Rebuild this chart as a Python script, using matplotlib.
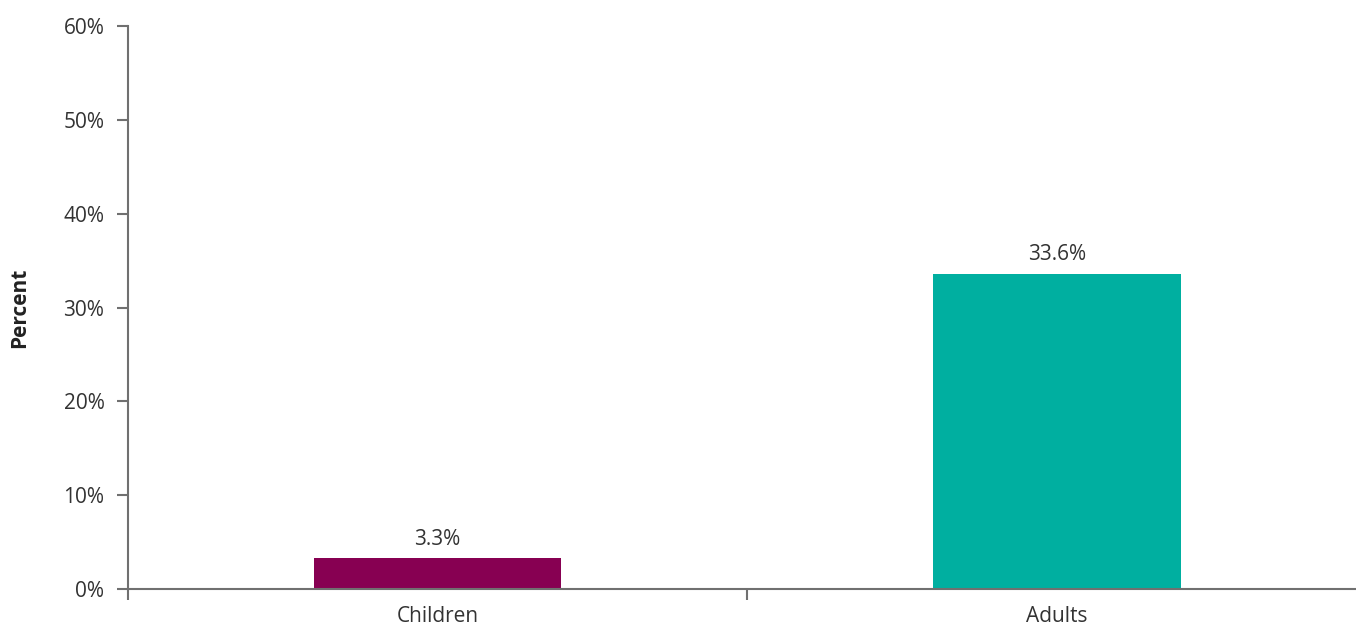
import matplotlib
matplotlib.use("Agg")
import matplotlib.pyplot as plt
from matplotlib.ticker import FuncFormatter

# values
groups = ["Children", "Adults"]
percents = [3.3, 33.6]
bar_colors = ["#870052", "#00AFA0"]

plt.rcParams['font.family'] = ['Open Sans', 'DejaVu Sans']

fig = plt.figure(figsize=(13.56, 6.27), dpi=100)
ax = fig.add_axes([128 / 1356, 38 / 627, 1 - 128 / 1356, 563 / 627])

x = list(range(len(groups)))
bars = ax.bar(x, percents, width=0.40, color=bar_colors, zorder=2)
for b, v in zip(bars, percents):
    ax.annotate(f"{v:.1f}%", (b.get_x() + b.get_width() / 2, v),
                xytext=(0, 6), textcoords="offset points",
                ha="center", va="bottom", fontsize=15, color="#333333")

ax.set_ylim(0, 60)
ax.set_yticks(range(0, 61, 10))
ax.yaxis.set_major_formatter(FuncFormatter(lambda v, p: f"{v:.0f}%"))
ax.set_xlim(-0.5, 1.483)
ax.set_xticks([-0.5, 0.5])
ax.set_xticklabels([])
ax.set_xticks(x, minor=True)
ax.set_xticklabels(groups, minor=True)
ax.tick_params(axis="x", which="minor", length=0, pad=12, labelsize=15, labelcolor="#333333")
ax.tick_params(axis="x", which="major", length=8, width=1.5, color="#707070")
ax.tick_params(axis="y", length=8, width=1.5, color="#707070", labelsize=15,
               labelcolor="#333333", pad=9)

for s in ["top", "right"]:
    ax.spines[s].set_visible(False)
for s in ["left", "bottom"]:
    ax.spines[s].set_color("#707070")
    ax.spines[s].set_linewidth(1.5)
ax.spines["bottom"].set_zorder(3)

ax.set_ylabel("Percent", fontsize=15, fontweight="bold", color="#222222", labelpad=24)

fig.savefig("out.png", dpi=100)
